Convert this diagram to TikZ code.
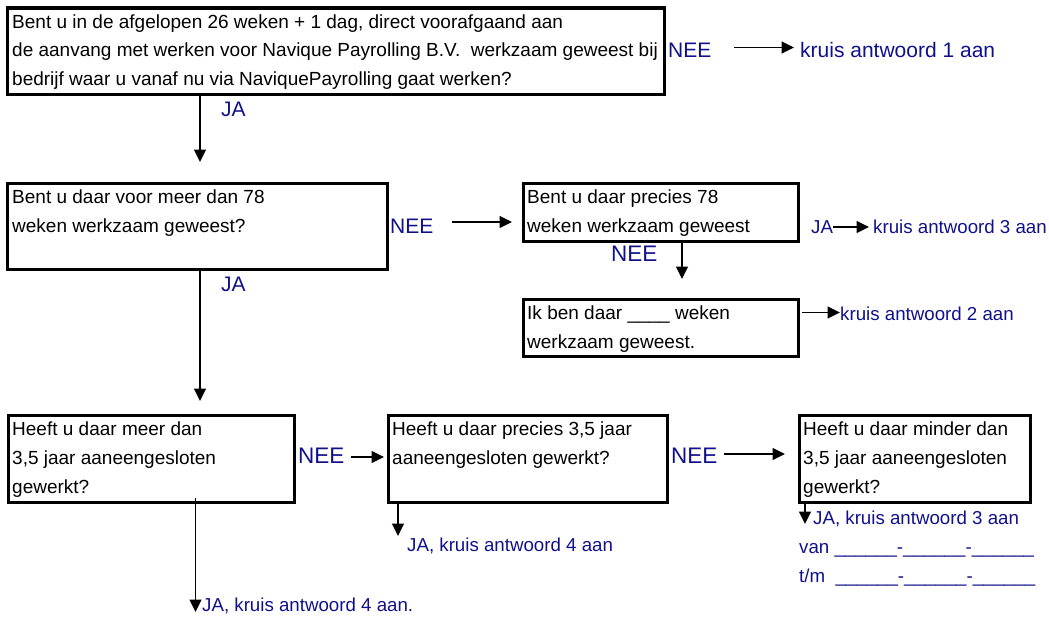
\documentclass[tikz,border=0pt]{standalone}
\usepackage{fontspec}
\setmainfont{Liberation Sans}
\usetikzlibrary{arrows.meta}
\definecolor{navy}{RGB}{16,16,140}
\begin{document}
\begin{tikzpicture}[x=1pt,y=-1pt,
  box/.style={draw, line width=3.2pt, inner sep=0pt, anchor=north west},
  btxt/.style={anchor=base west, inner sep=0pt, align=left, font=\fontsize{19}{29}\selectfont},
  btxtone/.style={anchor=base west, inner sep=0pt, align=left, font=\fontsize{19}{28.5}\selectfont},
  bigblue/.style={anchor=base west, inner sep=0pt, text=navy, font=\fontsize{21}{24}\selectfont},
  nee/.style={anchor=base west, inner sep=0pt, text=navy, font=\fontsize{22.5}{26}\selectfont},
  smallblue/.style={anchor=base west, inner sep=0pt, text=navy, align=left, font=\fontsize{18.7}{29}\selectfont},
  arr/.style={line width=1.7pt, -{Triangle[length=12.5pt,width=12pt]}}
]
\useasboundingbox (0,0) rectangle (1049,618);

% boxes
\node[box, minimum width=657.5pt, minimum height=86.5pt] (b1) at (5.5,6.5) {};
\node[box, minimum width=380pt, minimum height=86pt] (b2) at (5.5,182) {};
\node[box, minimum width=275.5pt, minimum height=57.5pt] (b3) at (521.5,182) {};
\node[box, minimum width=275.5pt, minimum height=57.5pt] (b4) at (521.5,297.5) {};
\node[box, minimum width=286.5pt, minimum height=87pt] (b5) at (6.5,414) {};
\node[box, minimum width=279pt, minimum height=87pt] (b6) at (387,414) {};
\node[box, minimum width=231pt, minimum height=87pt] (b7) at (798,414) {};

% box texts (anchor: baseline of the last line)
\node[btxtone] (t1) at (12,85) {Bent u in de afgelopen 26 weken + 1 dag, direct voorafgaand aan\\de aanvang met werken voor Navique Payrolling B.V.~ werkzaam geweest bij\\bedrijf waar u vanaf nu via NaviquePayrolling gaat werken?};
\node[btxt] (t2) at (12,232) {Bent u daar voor meer dan 78\\weken werkzaam geweest?};
\node[btxt] (t3) at (527,232) {Bent u daar precies 78\\weken werkzaam geweest};
\node[btxt] (t4) at (527,348) {Ik ben daar \_\_\_\_ weken\\werkzaam geweest.};
\node[btxt] (t5) at (12,493) {Heeft u daar meer dan\\3,5 jaar aaneengesloten\\gewerkt?};
\node[btxt] (t6) at (392,464) {Heeft u daar precies 3,5 jaar\\aaneengesloten gewerkt?};
\node[btxt] (t7) at (803,493) {Heeft u daar minder dan\\3,5 jaar aaneengesloten\\gewerkt?};

% row 1
\node[bigblue] (nee1) at (668,58) {NEE};
\node[bigblue] (k1) at (800,58) {kruis antwoord 1 aan};
\coordinate (a1s) at (734,47.5);
\coordinate (a1e) at (794,47.5);
\draw[arr] (a1s) -- (a1e);
\node[bigblue] (ja1) at (221,116) {JA};
\coordinate (a2e) at (200,162);
\draw[arr] (b1.south west -| a2e) -- (a2e);

% row 2
\node[bigblue] (nee2) at (390,233) {NEE};
\coordinate (a3s) at (452,222);
\coordinate (a3e) at (512,222);
\draw[arr] (a3s) -- (a3e);
\node[smallblue] (ja3) at (811,233) {JA};
\coordinate (a4e) at (869,227);
\draw[arr] (ja3.east |- a4e) -- (a4e);
\node[smallblue] (k3) at (873,233) {kruis antwoord 3 aan};
\node[nee] (nee3) at (611,261) {NEE};
\coordinate (a5e) at (682,279);
\draw[arr] (b3.south -| a5e) -- (a5e);
\coordinate (a6s) at (802,312.5);
\node[smallblue] (k2) at (840,320) {kruis antwoord 2 aan};
\draw[arr] (a6s) -- (k2.west |- a6s);
\node[bigblue] (ja2) at (221,291) {JA};
\coordinate (a7e) at (200,401);
\draw[arr] (b2.south -| a7e) -- (a7e);

% row 3
\node[nee] (nee5) at (298,463) {NEE};
\coordinate (a8e) at (384,457);
\draw[arr] (nee5.east |- a8e) ++(6,0) -- (a8e);
\node[nee] (nee6) at (671,463) {NEE};
\coordinate (a9e) at (785,454);
\draw[arr] (nee6.east |- a9e) ++(6,0) -- (a9e);

% below row 3
\coordinate (a10e) at (805,524);
\draw[arr] (b7.south -| a10e) -- (a10e);
\node[smallblue] (k7) at (813,524) {JA, kruis antwoord 3 aan};
\node[smallblue] (van) at (799,582) {van \_\_\_\_\_\_-\_\_\_\_\_\_-\_\_\_\_\_\_\\t/m~ \_\_\_\_\_\_-\_\_\_\_\_\_-\_\_\_\_\_\_};
\coordinate (a11e) at (398,536);
\draw[arr] (b6.south -| a11e) -- (a11e);
\node[smallblue] (k6) at (407,551) {JA, kruis antwoord 4 aan};
\coordinate (a12e) at (195.5,612);
\draw[arr] (195.5,498) -- (a12e);
\node[smallblue] (k5) at (202,611) {JA, kruis antwoord 4 aan.};
\end{tikzpicture}
\end{document}
